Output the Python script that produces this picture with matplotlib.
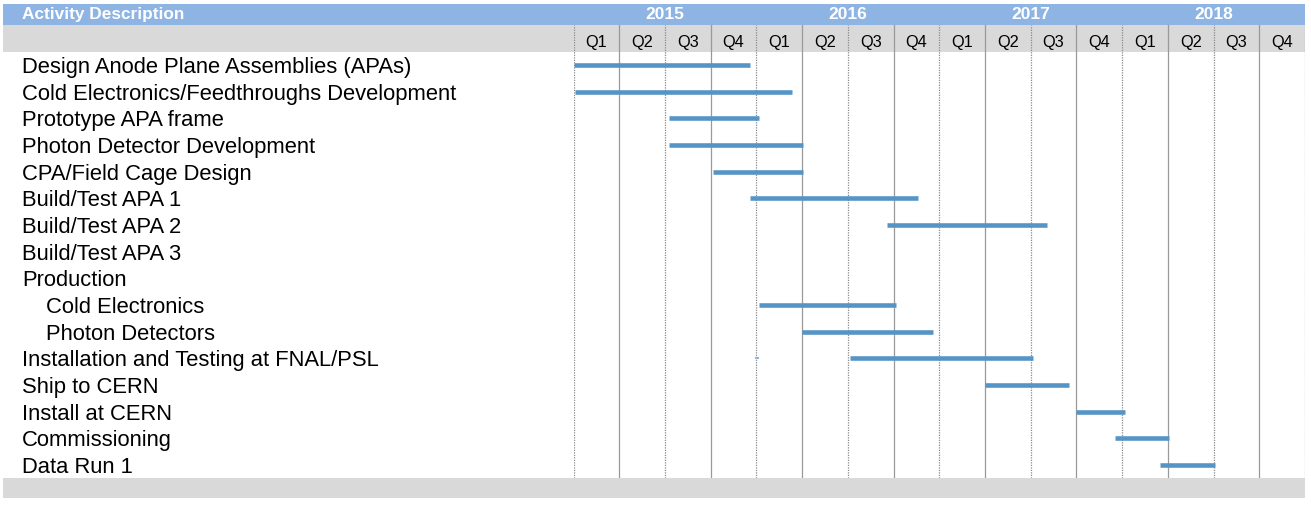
import matplotlib.pyplot as plt
from matplotlib.patches import Rectangle
from matplotlib.transforms import blended_transform_factory

plt.rcParams["font.family"] = ["Liberation Sans", "DejaVu Sans"]

# activities, top to bottom (indent 1 = sub-item of Production)
tasks = [
    "Design Anode Plane Assemblies (APAs)",
    "Cold Electronics/Feedthroughs Development",
    "Prototype APA frame",
    "Photon Detector Development",
    "CPA/Field Cage Design",
    "Build/Test APA 1",
    "Build/Test APA 2",
    "Build/Test APA 3",
    "Production",
    "Cold Electronics",
    "Photon Detectors",
    "Installation and Testing at FNAL/PSL",
    "Ship to CERN",
    "Install at CERN",
    "Commissioning",
    "Data Run 1",
]
indent = [0, 0, 0, 0, 0, 0, 0, 0, 0, 1, 1, 0, 0, 0, 0, 0]

years = ["2015", "2016", "2017", "2018"]
quarters = ["Q1", "Q2", "Q3", "Q4"]

# bars in quarters from 2015 Q1 start
bar_task = [0, 1, 2, 3, 4, 5, 6, 9, 10, 11, 12, 13, 14, 15]
bar_start = [0.0, 0.03, 2.08, 2.08, 3.06, 3.87, 6.86, 4.05, 4.99, 6.04, 9.01, 11.0, 11.85, 12.83]
bar_end = [3.86, 4.78, 4.06, 5.01, 5.01, 7.54, 10.36, 7.05, 7.86, 10.04, 10.84, 12.06, 13.02, 14.03]

# faint stub drawn before the installation bar
stub_task = 11
stub_start = 3.98
stub_end = 4.06

W, H = 1311, 505
fig = plt.figure(figsize=(W / 100, H / 100), dpi=100)
fig.patch.set_facecolor("white")


def fx(px):
    return px / W


def fy(py):
    return 1 - py / H


ax = fig.add_axes([fx(573.5), fy(478), fx(1305 - 573.5), (478 - 25) / H])
ax.set_facecolor("none")
n_q = len(years) * len(quarters)
ax.set_xlim(0, n_q)
ax.set_ylim(15.486, -1.5)
ax.axis("off")

# header bands
fig.add_artist(Rectangle((fx(3), fy(25)), fx(1302), 21 / H, transform=fig.transFigure,
                         facecolor="#8DB4E2", edgecolor="none", zorder=-2))
fig.add_artist(Rectangle((fx(3), fy(52)), fx(1302), 27 / H, transform=fig.transFigure,
                         facecolor="#D9D9D9", edgecolor="none", zorder=-2))
fig.add_artist(Rectangle((fx(3), fy(498)), fx(1302), 20 / H, transform=fig.transFigure,
                         facecolor="#D9D9D9", edgecolor="none", zorder=-2))

fig.text(fx(22), fy(14.5), "Activity Description", color="white", fontsize=12.4,
         fontweight="bold", ha="left", va="center")

# quarter grid: dotted on half-years, solid between
for i in range(n_q + 1):
    if i % 2 == 0:
        ax.axvline(i, color="#8A8A8A", lw=0.9, linestyle=(0, (1, 1)))
    else:
        ax.axvline(i, color="#999999", lw=0.9, linestyle="-")

yr_tr = blended_transform_factory(ax.transData, fig.transFigure)
for k, yr in enumerate(years):
    ax.text(k * 4 + 2, fy(14.5), yr, transform=yr_tr, color="white", fontsize=12.5,
            fontweight="bold", ha="center", va="center", clip_on=False)
    for j, q in enumerate(quarters):
        ax.text(k * 4 + j + 0.5, -0.86, q, fontsize=11.8, ha="center", va="center")

lab_tr = blended_transform_factory(fig.transFigure, ax.transData)
for i, name in enumerate(tasks):
    x = fx(46) if indent[i] else fx(22)
    ax.text(x, i, name, transform=lab_tr, fontsize=15.8, ha="left", va="center_baseline",
            clip_on=False)

for t, s, e in zip(bar_task, bar_start, bar_end):
    ax.plot([s, e], [t, t], color="#5794C6", lw=3.3, solid_capstyle="butt", zorder=3)
ax.plot([stub_start, stub_end], [stub_task, stub_task], color="#8FB6DC", lw=1.5,
        solid_capstyle="butt", zorder=3)

fig.savefig("out.png", dpi=100)
